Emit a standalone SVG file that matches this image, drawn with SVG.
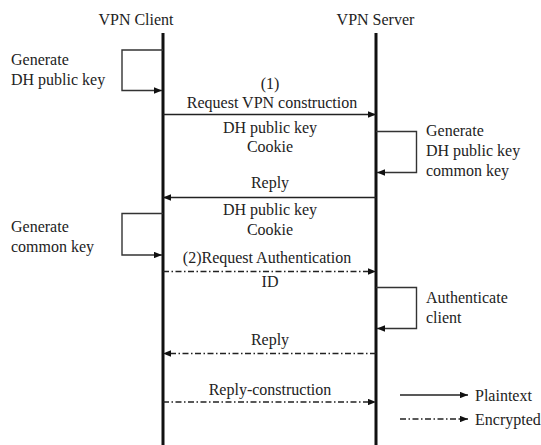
<svg xmlns="http://www.w3.org/2000/svg" width="541" height="445" viewBox="0 0 541 445">
<defs>
<style>
text{font-family:"Liberation Serif","Times New Roman",serif;font-size:16px;fill:#222}
.c{text-anchor:middle}
.life{stroke:#111;stroke-width:3;fill:none}
.msg{stroke:#222;stroke-width:1.6;fill:none}
.enc{stroke:#222;stroke-width:1.6;fill:none;stroke-dasharray:6 2.5 1.5 2.5}
.loop{stroke:#333;stroke-width:1.4;fill:none}
</style>
<marker id="ah" viewBox="0 0 10 8" refX="10" refY="4" markerWidth="8" markerHeight="6.4" markerUnits="userSpaceOnUse" orient="auto">
<path d="M0,0 L10,4 L0,8 z" fill="#111"/>
</marker>
</defs>
<rect width="541" height="445" fill="#fff"/>
<g id="client">
<text class="c" x="136" y="25">VPN Client</text>
<line class="life" x1="163" y1="33" x2="163" y2="445"/>
</g>
<g id="server">
<text class="c" x="375.5" y="25">VPN Server</text>
<line class="life" x1="376" y1="33" x2="376" y2="445"/>
</g>
<g id="gen-dh-client">
<text x="11" y="65">Generate</text>
<text x="11" y="85">DH public key</text>
</g>
<g id="gen-dh-server">
<text x="426" y="136">Generate</text>
<text x="426" y="156">DH public key</text>
<text x="426" y="176">common key</text>
</g>
<g id="gen-common-client">
<text x="11" y="232">Generate</text>
<text x="11" y="252">common key</text>
</g>
<g id="auth-server">
<text x="426" y="303">Authenticate</text>
<text x="426" y="323">client</text>
</g>
<g id="legend">
<line class="msg" x1="400" y1="395" x2="468" y2="395" marker-end="url(#ah)"/>
<text x="475" y="401">Plaintext</text>
<line class="enc" x1="400" y1="419" x2="468" y2="419" marker-end="url(#ah)"/>
<text x="475" y="425">Encrypted</text>
</g>
<g id="connectors">
<polyline class="loop" points="163,50 122,50 122,90.5 162,90.5" marker-end="url(#ah)"/>
<text class="c" x="270" y="89">(1)</text>
<text class="c" x="272" y="108">Request VPN construction</text>
<line class="msg" x1="163" y1="114.5" x2="376" y2="114.5" marker-end="url(#ah)"/>
<text class="c" x="270" y="133">DH public key</text>
<text class="c" x="270" y="152">Cookie</text>
<polyline class="loop" points="376,131.5 416.5,131.5 416.5,172.5 377,172.5" marker-end="url(#ah)"/>
<text class="c" x="270" y="188">Reply</text>
<line class="msg" x1="376" y1="197.5" x2="163" y2="197.5" marker-end="url(#ah)"/>
<text class="c" x="270" y="215">DH public key</text>
<text class="c" x="270" y="235">Cookie</text>
<polyline class="loop" points="163,213.5 122,213.5 122,255 162,255" marker-end="url(#ah)"/>
<text class="c" x="267" y="263">(2)Request Authentication</text>
<line class="enc" x1="163" y1="271.5" x2="376" y2="271.5" marker-end="url(#ah)"/>
<text class="c" x="270" y="287">ID</text>
<polyline class="loop" points="376,287.5 416.5,287.5 416.5,328.5 377,328.5" marker-end="url(#ah)"/>
<text class="c" x="270" y="345">Reply</text>
<line class="enc" x1="376" y1="353.5" x2="163" y2="353.5" marker-end="url(#ah)"/>
<text class="c" x="270" y="395">Reply-construction</text>
<line class="enc" x1="163" y1="402" x2="376" y2="402" marker-end="url(#ah)"/>
</g>
</svg>
